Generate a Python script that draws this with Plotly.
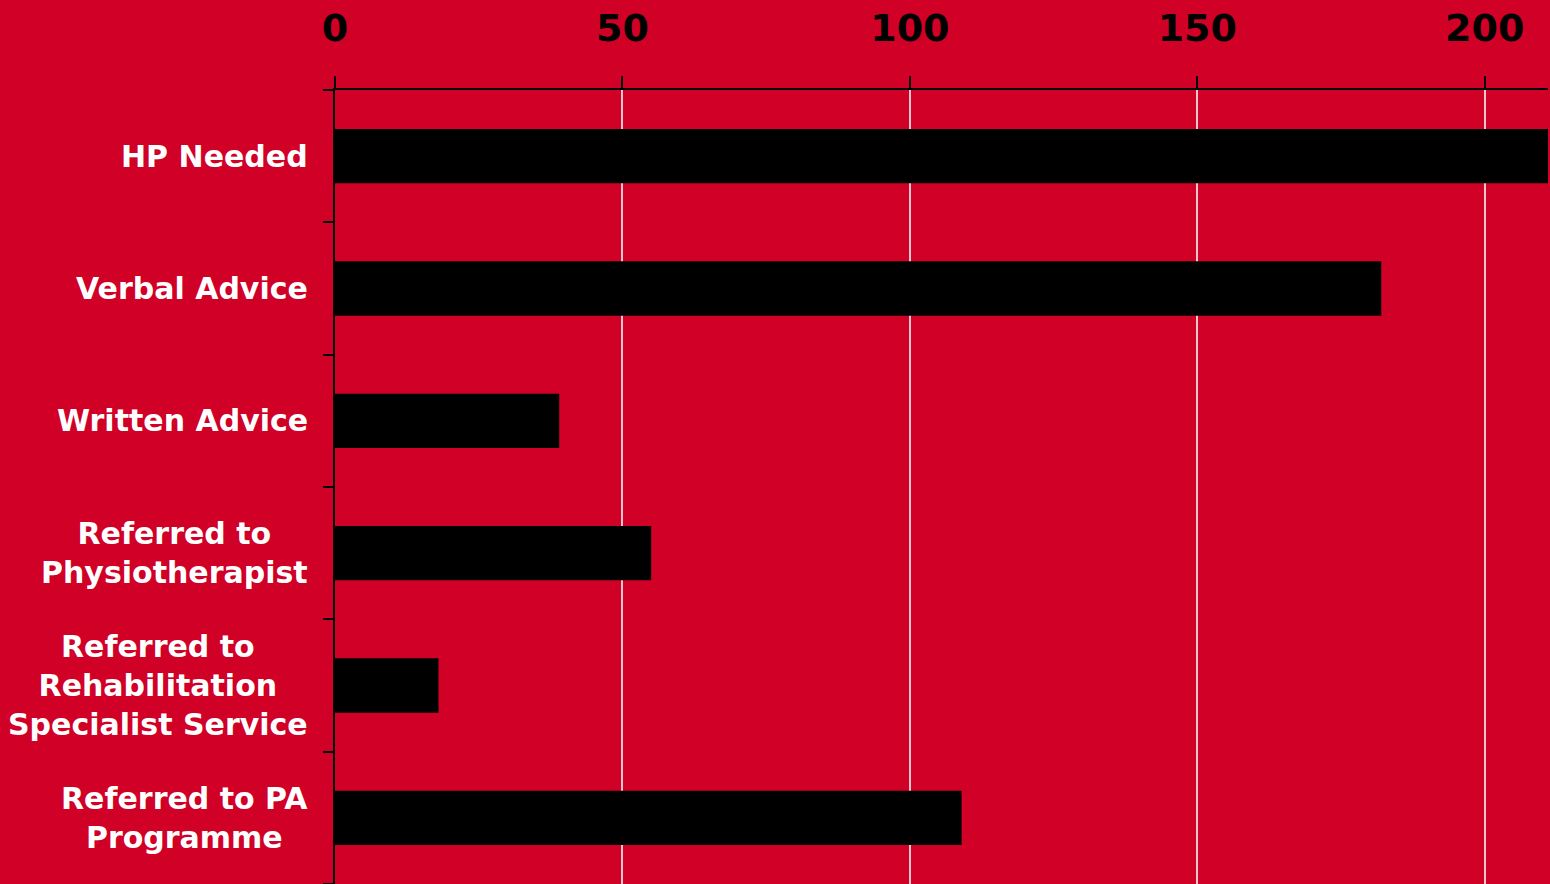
import plotly.graph_objects as go

categories = ["HP Needed", "Verbal Advice", "Written Advice",
              "Referred to<br>Physiotherapist",
              "Referred to<br>Rehabilitation<br>Specialist Service",
              "Referred to PA<br>Programme"]
values = [212, 182, 39, 55, 18, 109]
x_ticks = [0, 50, 100, 150, 200]

BG = "#D10026"
FONT = "DejaVu Sans"

fig = go.Figure(go.Bar(
    y=list(range(len(categories))), x=values, orientation="h",
    marker=dict(color="#000000", line=dict(width=0)),
    width=0.41,
))

for i, c in enumerate(categories):
    fig.add_annotation(
        x=0, xref="paper", y=i, yref="y", text="<b>%s</b>" % c,
        xanchor="right", yanchor="middle", align="center", xshift=-25,
        showarrow=False, font=dict(family=FONT, size=30, color="white"),
    )

fig.update_layout(
    width=1550, height=884,
    paper_bgcolor=BG, plot_bgcolor=BG,
    margin=dict(l=335, r=2, t=90, b=0),
    showlegend=False,
    xaxis=dict(
        side="top", range=[0, 211], tickvals=x_ticks,
        ticktext=["<b>%d</b>" % v for v in x_ticks],
        tickfont=dict(family=FONT, size=38, color="black"),
        showline=True, linecolor="black", linewidth=2,
        ticks="outside", ticklen=12, tickcolor="black", tickwidth=2,
        ticklabelstandoff=20, automargin=False,
        showgrid=True, gridcolor="#F2C4CB", gridwidth=1.5,
        zeroline=False,
    ),
    yaxis=dict(
        range=[5.5, -0.5], tickmode="array",
        tickvals=[i - 0.5 for i in range(len(categories) + 1)],
        ticktext=[""] * (len(categories) + 1),
        showline=True, linecolor="black", linewidth=2,
        ticks="outside", ticklen=10, tickcolor="black", tickwidth=2,
        showgrid=False, zeroline=False, automargin=False,
    ),
)

fig.write_html("out.html", config={"displayModeBar": False},
               post_script="document.body.style.margin='0';")
